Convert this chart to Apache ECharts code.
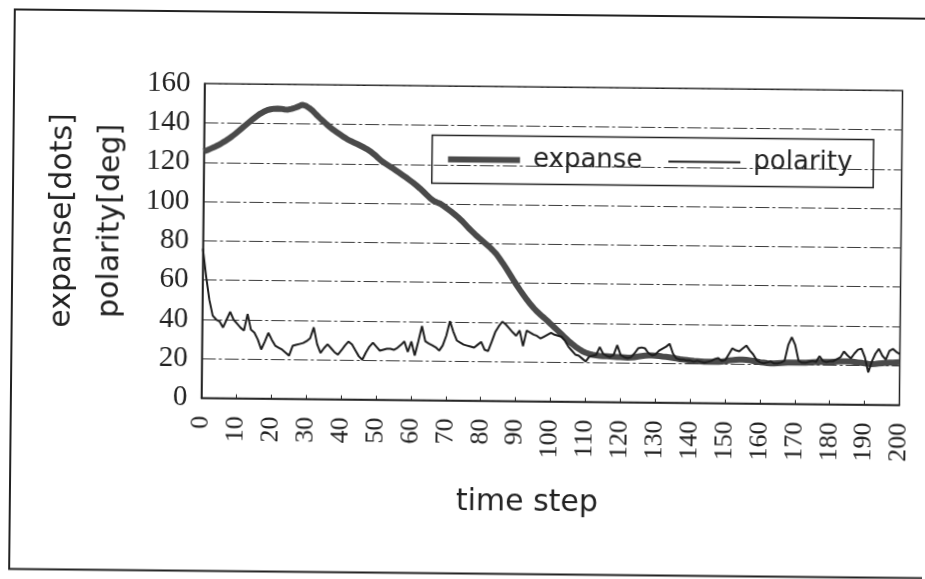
<!DOCTYPE html>
<html>
<head>
<meta charset="utf-8">
<script src="https://cdn.jsdelivr.net/npm/echarts@6/dist/echarts.min.js"></script>
<style>
html,body{margin:0;padding:0;background:#fff;overflow:hidden}
#chart{width:925px;height:579px;transform:rotate(0.58deg);transform-origin:50% 50%;background:#fff}
</style>
</head>
<body>
<div id="chart"></div>
<script>
// time step = array index (0..200)
const expanse = [
125.5,126.2,127,127.8,128.7,129.7,130.8,132,133.3,134.7,
136.2,137.8,139.3,140.8,142.3,143.7,145,146,146.8,147.3,
147.6,147.7,147.6,147.3,147.2,147.6,148.2,148.9,149.8,149.3,
148.2,146.8,145,143.3,141.7,140.1,138.6,137.2,136,134.8,
133.6,132.5,131.6,130.8,130,129.1,128.2,127.2,126,124.6,
123,121.5,120.3,119.2,118.1,116.9,115.7,114.5,113.3,112,
110.7,109.3,107.8,106.2,104.5,102.8,101.5,100.7,100,98.8,
97.5,96.2,94.8,93.3,91.7,89.9,88,86.3,84.6,83,
81.5,80,78.5,76.8,75,72.6,70.1,67.4,64.6,61.8,
59.1,56.5,54,51.6,49.4,47.4,45.6,44,42.5,40.9,
39.2,37.6,36,34.3,32.6,31,29.5,28.1,26.9,25.8,
25,24.4,24,23.7,23.5,23.4,23.3,23.2,23.1,23,
22.9,22.8,22.7,22.8,23,23.3,23.6,23.8,24,24,
23.9,23.7,23.5,23.3,23.1,22.8,22.5,22.2,22,21.8,
21.6,21.4,21.3,21.2,21.1,21,21,21,21,21.2,
21.5,21.8,22,22.2,22.3,22.3,22.2,22,21.7,21.4,
21.1,20.9,20.7,20.6,20.6,20.7,20.8,20.9,21,21,
21,21,21,21.1,21.2,21.3,21.4,21.5,21.5,21.5,
21.6,21.7,21.8,21.9,22,22,21.9,21.7,21.5,21.3,
21,20.8,20.7,20.8,21,21.2,21.4,21.5,21.6,21.7,
21.8
];
const polarity = [
76,62,50,42,40,39,36,40,44,40,
38,36,34.5,43,35,33.5,30,25,29,33.5,
30,27,26,25,23.5,22,27,27.5,28,28.5,
29.5,31,36.5,28,23.5,26,28,26,24,22.8,
25,27.5,29.5,28,25,22,20.3,24,27,29,
27,25,25.5,26,26,25.5,26.5,28,29.8,24.5,
29.8,22.7,30,37.7,30,28.9,28,27,25.3,28,
33,40.4,35,30.6,29.5,28.5,28,27.5,27,28.5,
30,26,25.3,30,35,38,40.4,39,37,35,
33.3,36,28,36,35,34,33.3,32,33,34,
35,34,33.5,33,31,28,26,24,23.5,22,
20.5,23,23.5,24,28,24.5,23.5,23,24,29,
24,23,22.5,23,25,27.5,28,27.5,25,24,
24.5,26.5,27.5,28.5,30,25,22.5,22,22,21.5,
21.5,21,21.5,21,20.5,21,21.5,22.5,23,21.5,
22,25,28,27,26.5,28,29.5,27,25,22,
21,20.5,21,21.5,20.5,20.5,21,22,30,34,
30,22,21,21,21.5,22,21.5,24.5,22,21.5,
22,22,23,24,27,25,23.5,26,28,28.5,
24,16.5,22,26,28.5,25,23,27.5,28.5,27,
26
];
const seriesNames = ['expanse', 'polarity'];
const xAxisTitle = 'time step';
const yAxisTitle = 'expanse[dots]\npolarity[deg]';
const xRange = [0, 200, 10];
const yRange = [0, 160, 20];

const chart = echarts.init(document.getElementById('chart'), null, {renderer: 'canvas'});
const ink = '#222';
const expanseColor = '#4a4a4a';
const polarityColor = '#1e1e1e';
chart.setOption({
  animation: false,
  backgroundColor: '#fff',
  grid: {
    left: 202.5, right: 24.5, top: 86.3, bottom: 178.4,
    show: true, borderColor: ink, borderWidth: 1.5, backgroundColor: 'transparent',
    outerBoundsMode: 'none'
  },
  graphic: [{
    type: 'rect', silent: true,
    shape: {x: 12, y: 14, width: 960, height: 559.6},
    style: {fill: 'none', stroke: ink, lineWidth: 2}
  }],
  legend: {
    data: [
      {name: seriesNames[0], lineStyle: {width: 6, color: expanseColor}},
      {name: seriesNames[1], lineStyle: {width: 2, color: polarityColor}}
    ],
    left: 430.7, top: 135.5,
    padding: [11, 21, 11, 13],
    itemWidth: 72, itemHeight: 14, itemGap: 25,
    itemStyle: {opacity: 0},
    borderColor: ink, borderWidth: 1.5,
    textStyle: {fontFamily: 'DejaVu Sans', fontSize: 26, color: ink, padding: [0, 0, 0, 8]}
  },
  xAxis: {
    type: 'value', min: xRange[0], max: xRange[1], interval: xRange[2],
    name: xAxisTitle, nameLocation: 'middle', nameGap: 87,
    nameTextStyle: {fontFamily: 'DejaVu Sans', fontSize: 30, color: ink, padding: [0, 45, 0, 0]},
    axisLine: {show: true, lineStyle: {color: ink, width: 1.5}},
    axisTick: {show: true, inside: true, length: 4, lineStyle: {color: ink}},
    axisLabel: {rotate: 90, fontFamily: 'Liberation Serif', fontSize: 26, color: ink, margin: 18},
    splitLine: {show: false}
  },
  yAxis: {
    type: 'value', min: yRange[0], max: yRange[1], interval: yRange[2],
    name: yAxisTitle, nameLocation: 'middle', nameRotate: 90, nameGap: 62,
    nameTextStyle: {fontFamily: 'DejaVu Sans', fontSize: 30, lineHeight: 48, color: ink, padding: [0, 0, 0, 38]},
    axisLine: {show: true, lineStyle: {color: ink, width: 1.5}},
    axisTick: {show: false},
    axisLabel: {fontFamily: 'Liberation Serif', fontSize: 29, color: ink, margin: 14},
    splitLine: {show: true, lineStyle: {color: '#3a3a3a', width: 1, type: [14, 3, 3, 3]}}
  },
  series: [
    {
      name: seriesNames[0], type: 'line', symbol: 'none', z: 2,
      data: expanse.map((v, i) => [i, v]),
      lineStyle: {color: expanseColor, width: 6}, itemStyle: {color: expanseColor}
    },
    {
      name: seriesNames[1], type: 'line', symbol: 'none', z: 3,
      data: polarity.map((v, i) => [i, v]),
      lineStyle: {color: polarityColor, width: 2}, itemStyle: {color: polarityColor}
    }
  ]
});
</script>
</body>
</html>
